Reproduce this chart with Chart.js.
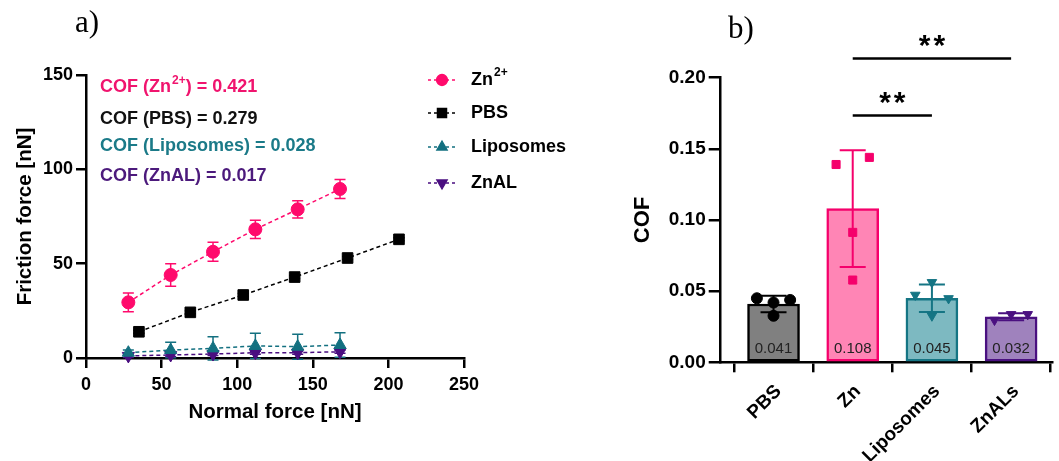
<!DOCTYPE html>
<html>
<head>
<meta charset="utf-8">
<script src="https://cdn.jsdelivr.net/npm/chart.js@4.4.0/dist/chart.umd.min.js"></script>
<style>
  html, body { margin: 0; padding: 0; background: #fff; overflow: hidden; }
  #wrap { position: relative; width: 1059px; height: 461px; }
  #chartA { position: absolute; left: 0; top: 0; }
  #chartB { position: absolute; left: 600px; top: 0; }
</style>
</head>
<body>
<div id="wrap">
  <canvas id="chartA" width="600" height="461"></canvas>
  <canvas id="chartB" width="459" height="461"></canvas>
</div>
<script>
// ---- panel a) friction force vs normal force ----
const normalForce = [28, 56, 84, 112, 140, 168];
const normalForcePBS = [35, 69, 104, 138, 173, 207];
const frictionZn = [29.5, 44, 56.3, 68.2, 78.8, 89.6];
const errZn = [5, 6, 5, 4.8, 4.6, 5];
const frictionPBS = [13.9, 24.2, 33.4, 42.9, 53, 62.9];
const errPBS = [0.8, 0.8, 0.8, 0.8, 0.8, 0.8];
const frictionLipo = [2.8, 4.2, 5.1, 6.4, 6.0, 6.9];
const errLipo = [1.5, 4.1, 6.2, 6.7, 6.6, 6.5];
const frictionZnAL = [1.1, 1.6, 2.1, 2.8, 2.8, 3.3];
const errZnAL = [0.8, 0.8, 0.8, 0.8, 0.8, 0.8];
const seriesNames = ['Zn', 'PBS', 'Liposomes', 'ZnAL'];
const seriesSup = ['2+', '', '', ''];
const cofValues = ['0.421', '0.279', '0.028', '0.017'];
const xTicksA = [0, 50, 100, 150, 200, 250];
const yTicksA = [0, 50, 100, 150];

// ---- panel b) COF per group ----
const groups = ['PBS', 'Zn', 'Liposomes', 'ZnALs'];
const cofMean = [0.041, 0.108, 0.045, 0.032];
const cofSD = [0.0058, 0.041, 0.0096, 0.0024];
const repPBS = [0.045, 0.042, 0.0438, 0.0327];
const repZn = [0.139, 0.144, 0.0913, 0.0578];
const repLipo = [0.0562, 0.0473, 0.0449, 0.0327];
const repZnALs = [0.0297, 0.0337, 0.0337];
const yTicksB = [0, 0.05, 0.10, 0.15, 0.20];
const sigPairs = [[2, 3, '**'], [2, 4, '**']];
const sigLevels = [0.1735, 0.2135];

const FONT = '"Liberation Sans", Arial, sans-serif';
const colA = ['#ff0a6c', '#000000', '#137080', '#4a0e80'];
const textColA = ['#f0146e', '#111111', '#1b7a88', '#4c1a7c'];
const styleA = ['circle', 'rect', 'triangle', 'triangle'];
const rotA = [0, 0, 0, 180];
const radA = [6.5, 7.5, 7, 7];

const fillB = ['#808080', '#ff85b5', '#7db9c1', '#9f82bd'];
const edgeB = ['#000000', '#f5006b', '#157584', '#4a1080'];

function series(xs, ys, i) {
  return {
    label: seriesNames[i],
    data: xs.map((x, j) => ({ x: x, y: ys[j] })),
    borderColor: colA[i],
    backgroundColor: colA[i],
    showLine: true,
    borderDash: [4, 3],
    borderWidth: 1.5,
    pointStyle: styleA[i],
    pointRotation: rotA[i],
    pointRadius: radA[i],
    pointBorderWidth: 1,
    clip: false
  };
}

const errA = [errZn, errPBS, errLipo, errZnAL];

function drawSup(ctx, x, y, base, sup, rest, size) {
  ctx.font = 'bold ' + size + 'px ' + FONT;
  ctx.fillText(base, x, y);
  let w = ctx.measureText(base).width;
  if (sup) {
    ctx.font = 'bold ' + Math.round(size * 0.68) + 'px ' + FONT;
    ctx.fillText(sup, x + w + 1, y - size * 0.4);
    w += ctx.measureText(sup).width + 1;
  }
  ctx.font = 'bold ' + size + 'px ' + FONT;
  ctx.fillText(rest, x + w, y);
}

const panelA = {
  id: 'panelA',
  beforeDatasetsDraw(chart) {
    const { ctx, scales: { x, y } } = chart;
    ctx.save();
    chart.data.datasets.forEach((ds, i) => {
      ctx.strokeStyle = ds.borderColor;
      ctx.lineWidth = 1.5;
      ds.data.forEach((p, j) => {
        const px = x.getPixelForValue(p.x);
        const top = y.getPixelForValue(p.y + errA[i][j]);
        const bot = y.getPixelForValue(p.y - errA[i][j]);
        ctx.beginPath();
        ctx.moveTo(px, top); ctx.lineTo(px, bot);
        ctx.moveTo(px - 5.5, top); ctx.lineTo(px + 5.5, top);
        ctx.moveTo(px - 5.5, bot); ctx.lineTo(px + 5.5, bot);
        ctx.stroke();
      });
    });
    ctx.restore();
  },
  afterDraw(chart) {
    const ctx = chart.ctx;
    ctx.save();
    // panel letter
    ctx.fillStyle = '#000';
    ctx.font = '31px "Liberation Serif", "Times New Roman", serif';
    ctx.textBaseline = 'alphabetic';
    ctx.textAlign = 'left';
    ctx.fillText('a)', 75, 32);
    // COF annotations
    ctx.textBaseline = 'middle';
    const annY = [87.5, 119, 146.5, 176.5];
    seriesNames.forEach((n, i) => {
      ctx.fillStyle = textColA[i];
      drawSup(ctx, 100, annY[i], 'COF (' + n, seriesSup[i], ') = ' + cofValues[i], 18);
    });
    // legend
    const legY = [80, 113, 147, 183];
    seriesNames.forEach((n, i) => {
      const ly = legY[i];
      ctx.strokeStyle = colA[i];
      ctx.fillStyle = colA[i];
      ctx.lineWidth = 1.3;
      ctx.setLineDash([3, 3]);
      ctx.beginPath();
      ctx.moveTo(428, ly); ctx.lineTo(456, ly);
      ctx.stroke();
      ctx.setLineDash([]);
      Chart.helpers.drawPoint(ctx, { pointStyle: styleA[i], rotation: rotA[i], radius: radA[i] - 1, borderWidth: 1 }, 442, ly);
      ctx.fillStyle = '#000';
      drawSup(ctx, 471, ly, n, seriesSup[i], '', 18);
    });
    ctx.restore();
  }
};

new Chart(document.getElementById('chartA'), {
  type: 'scatter',
  data: {
    datasets: [
      series(normalForce, frictionZn, 0),
      series(normalForcePBS, frictionPBS, 1),
      series(normalForce, frictionLipo, 2),
      series(normalForce, frictionZnAL, 3)
    ]
  },
  options: {
    responsive: false,
    animation: false,
    layout: { padding: { top: 75, right: 136, bottom: 0, left: 0 } },
    plugins: { legend: { display: false }, tooltip: { enabled: false } },
    scales: {
      x: {
        type: 'linear',
        min: xTicksA[0],
        max: xTicksA[xTicksA.length - 1],
        afterBuildTicks: s => { s.ticks = xTicksA.map(v => ({ value: v })); },
        afterFit: s => { s.height = 103; },
        border: { color: '#000', width: 2.5 },
        grid: { drawOnChartArea: false, color: '#000', lineWidth: 2.5, tickLength: 10 },
        ticks: { color: '#000', padding: 6, font: { family: FONT, size: 18, weight: 'bold' } },
        title: {
          display: true, text: 'Normal force [nN]', color: '#000',
          font: { family: FONT, size: 20.5, weight: 'bold' },
          padding: { top: 0, bottom: 36 }
        }
      },
      y: {
        type: 'linear',
        min: yTicksA[0],
        max: yTicksA[yTicksA.length - 1],
        afterBuildTicks: s => { s.ticks = yTicksA.map(v => ({ value: v })); },
        afterFit: s => { s.width = 86; },
        border: { color: '#000', width: 2.5 },
        grid: { drawOnChartArea: false, color: '#000', lineWidth: 2.5, tickLength: 10 },
        ticks: { color: '#000', padding: 3, font: { family: FONT, size: 18, weight: 'bold' } },
        title: {
          display: true, text: 'Friction force [nN]', color: '#000',
          font: { family: FONT, size: 20.5, weight: 'bold' },
          padding: { top: 12.7, bottom: 0 }
        }
      }
    }
  },
  plugins: [panelA]
});

// ---- panel b ----
const reps = [repPBS, repZn, repLipo, repZnALs];
const repStyle = ['circle', 'rect', 'triangle', 'triangle'];
const repRot = [0, 0, 180, 180];
const repRad = [5.5, 5.7, 5.5, 5.5];
const spread = [[-1, 0, 1, 0], [-1, 1, 0, 0], [0, -1, 1, 0], [-1, 0, 1]];

const repSets = reps.map((vals, i) => ({
  type: 'scatter',
  data: vals.map((v, j) => ({ x: i + 1 + spread[i][j] * 0.21, y: v })),
  backgroundColor: edgeB[i],
  borderColor: edgeB[i],
  pointStyle: repStyle[i],
  pointRotation: repRot[i],
  pointRadius: repRad[i],
  pointBorderWidth: 1,
  clip: false
}));

const panelB = {
  id: 'panelB',
  afterDatasetDraw(chart, args) {
    if (args.index !== 0) return;
    const { ctx, scales: { x, y } } = chart;
    ctx.save();
    groups.forEach((g, i) => {
      const px = x.getPixelForValue(i + 1);
      const top = y.getPixelForValue(cofMean[i] + cofSD[i]);
      const bot = y.getPixelForValue(cofMean[i] - cofSD[i]);
      ctx.strokeStyle = edgeB[i];
      ctx.lineWidth = 2;
      ctx.beginPath();
      ctx.moveTo(px, top); ctx.lineTo(px, bot);
      ctx.moveTo(px - 13, top); ctx.lineTo(px + 13, top);
      ctx.moveTo(px - 13, bot); ctx.lineTo(px + 13, bot);
      ctx.stroke();
      ctx.fillStyle = '#222';
      ctx.font = '15px ' + FONT;
      ctx.textAlign = 'center';
      ctx.textBaseline = 'middle';
      ctx.fillText(cofMean[i].toFixed(3), px, y.getPixelForValue(0) - 13);
    });
    ctx.restore();
  },
  afterDraw(chart) {
    const { ctx, scales: { x, y } } = chart;
    ctx.save();
    ctx.fillStyle = '#000';
    ctx.font = '31px "Liberation Serif", "Times New Roman", serif';
    ctx.textAlign = 'left';
    ctx.textBaseline = 'alphabetic';
    ctx.fillText('b)', 128, 38);
    sigPairs.forEach((p, k) => {
      const x1 = x.getPixelForValue(p[0]);
      const x2 = x.getPixelForValue(p[1]);
      const ly = y.getPixelForValue(sigLevels[k]);
      ctx.strokeStyle = '#000';
      ctx.lineWidth = 2.5;
      ctx.beginPath();
      ctx.moveTo(x1, ly); ctx.lineTo(x2, ly);
      ctx.stroke();
      ctx.font = 'bold 30px ' + FONT;
      ctx.letterSpacing = '3px';
      ctx.textAlign = 'center';
      ctx.fillText(p[2], (x1 + x2) / 2 + 1.5, ly - 3);
      ctx.letterSpacing = '0px';
    });
    ctx.restore();
  }
};

new Chart(document.getElementById('chartB'), {
  type: 'bar',
  data: {
    datasets: [{
      data: groups.map((g, i) => ({ x: i + 1, y: cofMean[i] })),
      backgroundColor: fillB,
      borderColor: edgeB,
      borderWidth: 2.5,
      borderSkipped: false,
      barThickness: 52,
      order: 2
    }].concat(repSets.map(s => Object.assign(s, { order: 1 })))
  },
  options: {
    responsive: false,
    animation: false,
    layout: { padding: { top: 77.7, right: 0, bottom: 0, left: 0 } },
    plugins: { legend: { display: false }, tooltip: { enabled: false } },
    scales: {
      x: {
        type: 'linear',
        min: 0.333,
        max: 4.52,
        offset: false,
        afterBuildTicks: s => { s.ticks = groups.map((g, i) => ({ value: i + 1 })); },
        afterFit: s => { s.height = 98.7; },
        border: { color: '#000', width: 2.5 },
        grid: { drawOnChartArea: false, color: '#000', lineWidth: 2.5, tickLength: 10 },
        ticks: {
          color: '#000', padding: 8, minRotation: 45, maxRotation: 45, labelOffset: 5,
          font: { family: FONT, size: 19, weight: 'bold' },
          callback: v => groups[Math.round(v) - 1]
        }
      },
      y: {
        type: 'linear',
        min: yTicksB[0],
        max: yTicksB[yTicksB.length - 1],
        afterBuildTicks: s => { s.ticks = yTicksB.map(v => ({ value: v })); },
        afterFit: s => { s.width = 120.7; },
        border: { color: '#000', width: 2.5 },
        grid: { drawOnChartArea: false, color: '#000', lineWidth: 2.5, tickLength: 12 },
        ticks: {
          color: '#000', padding: 3,
          font: { family: FONT, size: 19, weight: 'bold' },
          callback: v => v.toFixed(2)
        },
        title: {
          display: true, text: 'COF', color: '#000',
          font: { family: FONT, size: 22, weight: 'bold' },
          padding: { top: 29.8, bottom: 0 }
        }
      }
    }
  },
  plugins: [panelB]
});
</script>
</body>
</html>
